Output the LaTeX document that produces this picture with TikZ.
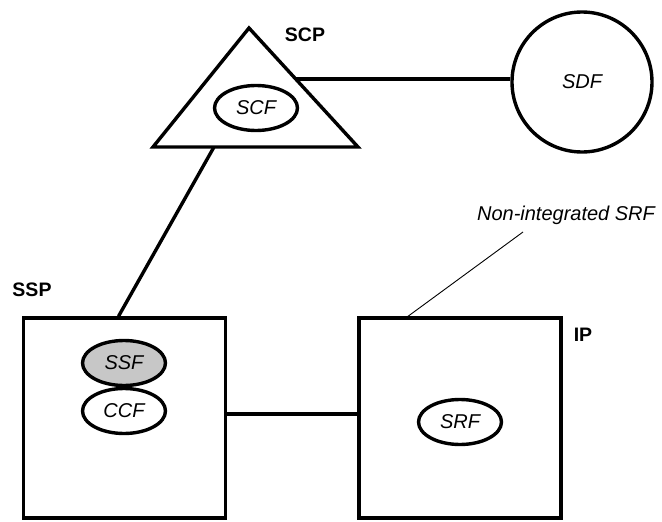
\documentclass[tikz,border=0pt]{standalone}
\usepackage{fontspec}
\setmainfont{Liberation Sans}
\usetikzlibrary{shapes.geometric}
\begin{document}
\begin{tikzpicture}[x=1pt,y=-1pt,
  thick line/.style={line width=3.4pt},
  func/.style={draw,thick line,ellipse,minimum width=83pt,minimum height=45pt,inner sep=0pt,font=\fontsize{20}{23}\selectfont\itshape},
  box/.style={draw,thick line,rectangle,minimum width=202pt,minimum height=200pt,inner sep=0pt},
  lbl/.style={font=\fontsize{19.5}{23}\selectfont\bfseries,inner sep=0pt},
  note/.style={font=\fontsize{20}{23}\selectfont\itshape,inner sep=0pt},
  conn/.style={thick line}]
\useasboundingbox (0,0) rectangle (662,522);
% SCP triangle
\coordinate (apex) at (249,28);
\coordinate (bl) at (153,147);
\coordinate (br) at (358,147);
\draw[thick line,line join=miter] (apex) -- (br) -- (bl) -- cycle;
\coordinate (scpR) at (296,79);
\coordinate (scpB) at (214,147);
\node[func] (scf) at (256,108) {SCF};
\node[lbl] (scp) at (305,35) {SCP};
% SDF
\node[draw,thick line,circle,minimum size=140pt,inner sep=0pt,font=\fontsize{20}{23}\selectfont\itshape] (sdf) at (582,82) {SDF};
% SSP box
\node[box] (ssp) at (124.5,418) {};
\node[lbl] (ssplbl) at (32,290) {SSP};
\node[func,fill=black!22] (ssf) at (124,363) {SSF};
\node[func] (ccf) at (124,411) {CCF};
% IP box
\node[box] (ip) at (460,418) {};
\node[lbl] (iplbl) at (583,335) {IP};
\node[func] (srf) at (460,422) {SRF};
% note
\node[note] (nisrf) at (566,215) {Non-integrated SRF};
\coordinate (noteEnd) at (523,232);
% connectors
\draw[conn] (scpR) -- (scpR -| sdf.west);
\draw[conn] (scpB) -- ([xshift=-6pt]ssp.north);
\draw[conn] ([yshift=4pt]ssp.east) -- ([yshift=4pt]ip.west);
\draw[line width=0.9pt] (noteEnd) -- ([xshift=-52pt]ip.north);
\end{tikzpicture}
\end{document}
